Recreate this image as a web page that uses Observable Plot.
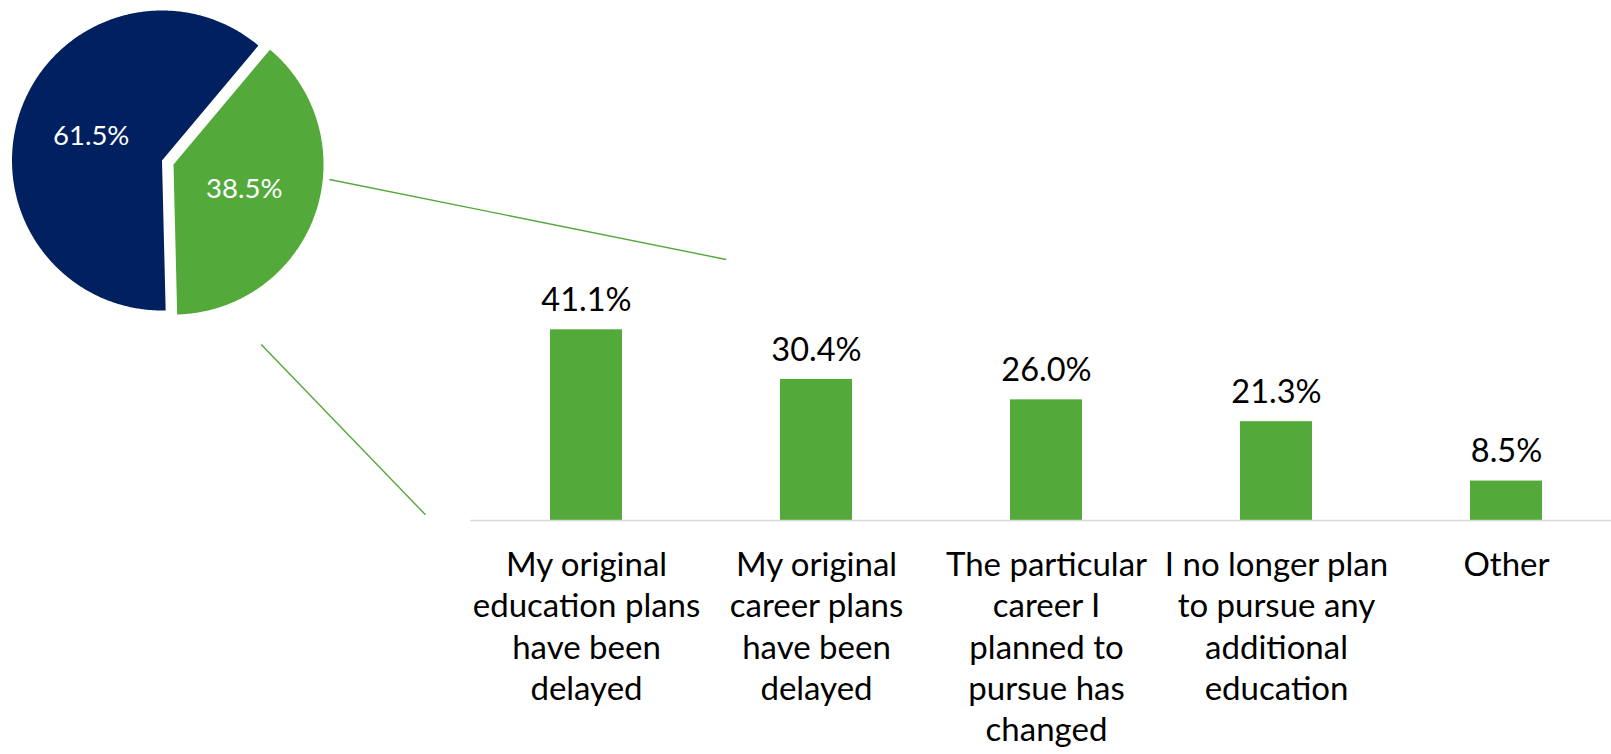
<!DOCTYPE html>
<html>
<head>
<meta charset="utf-8">
<script src="https://cdn.jsdelivr.net/npm/d3@7"></script>
<script src="https://cdn.jsdelivr.net/npm/@observablehq/plot@0.6"></script>
<style>
  html, body { margin: 0; padding: 0; background: #ffffff; }
  #chart { position: relative; width: 1611px; height: 754px; overflow: hidden; }
  #chart svg { position: absolute; left: 0; top: 0; }
</style>
</head>
<body>
<div id="chart"></div>
<script>
// ---------- data ----------
const pieKeys = ["Plans not changed", "Plans changed"];
const pieValues = [61.5, 38.5];

const categories = [
  "My original\neducation plans\nhave been\ndelayed",
  "My original\ncareer plans\nhave been\ndelayed",
  "The particular\ncareer I\nplanned to\npursue has\nchanged",
  "I no longer plan\nto pursue any\nadditional\neducation",
  "Other"
];
const barValues = [41.1, 30.4, 26.0, 21.3, 8.5];

// ---------- layout & style ----------
const W = 1611, H = 754;
const PIE = { cx: 161.5, cy: 160, r: 150, splitDeg: 40, explode: 12.2, labelFrac: 0.5 };
const PIE_COLORS = ["#002060", "#53A93A"];
const BAR_COLOR = "#53A93A";
const SERIES_LINES = [
  { x1: 329, y1: 179, x2: 725.7, y2: 259 },
  { x1: 260.7, y1: 344, x2: 425, y2: 514.3 }
];
const FONT = "Lato, 'Open Sans', sans-serif";
const BASE_Y = 520, PX_PER_PCT = 4.64;
const CAT_FONT = 33, CAT_LINE = 41.4;
const fmt = v => d3.format(".1f")(v) + "%";

// ---------- pie geometry from the data ----------
const rad = d => d * Math.PI / 180;
const total = d3.sum(pieValues);
const start = rad(PIE.splitDeg) - 2 * Math.PI * pieValues[0] / total;
const arcs = d3.pie().sort(null).startAngle(start).endAngle(start + 2 * Math.PI)(pieValues);
const slices = arcs.map((a, i) => {
  const mid = (a.startAngle + a.endAngle) / 2;
  const off = i === 1 ? PIE.explode : 0;
  const cx = PIE.cx + off * Math.sin(mid), cy = PIE.cy - off * Math.cos(mid);
  const n = Math.max(2, Math.ceil((a.endAngle - a.startAngle) / rad(0.5)));
  const pts = [{ x: cx, y: cy }];
  for (let k = 0; k <= n; k++) {
    const t = a.startAngle + (a.endAngle - a.startAngle) * k / n;
    pts.push({ x: cx + PIE.r * Math.sin(t), y: cy - PIE.r * Math.cos(t) });
  }
  pts.push({ x: cx, y: cy });
  return {
    key: pieKeys[i], value: a.value, color: PIE_COLORS[i], pts,
    lx: cx + PIE.r * PIE.labelFrac * Math.sin(mid),
    ly: cy - PIE.r * PIE.labelFrac * Math.cos(mid)
  };
});

const piePlot = Plot.plot({
  width: W, height: H, margin: 0,
  x: { domain: [0, W], range: [0, W], axis: null },
  y: { domain: [0, H], range: [0, H], axis: null },
  style: { fontFamily: FONT, background: "transparent" },
  marks: [
    ...slices.map(s => Plot.line(s.pts, { x: "x", y: "y", fill: s.color, stroke: "none" })),
    Plot.link(SERIES_LINES, { x1: "x1", y1: "y1", x2: "x2", y2: "y2", stroke: BAR_COLOR, strokeWidth: 1.4 }),
    Plot.text(slices, { x: "lx", y: "ly", text: d => fmt(d.value), fill: "#ffffff", fontSize: 27.5, textAnchor: "middle", lineAnchor: "middle" })
  ]
});

// ---------- bar chart ----------
const bars = categories.map((c, i) => ({ category: c, value: barValues[i] }));
const barPlot = Plot.plot({
  width: W, height: H, marginLeft: 470, marginRight: 0, marginTop: 0, marginBottom: 0,
  x: { domain: categories, range: [470, 1621], paddingInner: 0.6885, paddingOuter: 0.344, axis: null },
  y: { domain: [0, 45], range: [BASE_Y, BASE_Y - 45 * PX_PER_PCT], axis: null },
  style: { fontFamily: FONT, background: "transparent" },
  marks: [
    Plot.barY(bars, { x: "category", y: "value", fill: BAR_COLOR }),
    Plot.ruleY([0], { stroke: "#D9D9D9", strokeWidth: 1.4 }),
    Plot.text(bars, { x: "category", y: "value", text: d => fmt(d.value), dy: -18.6, lineAnchor: "bottom", fontSize: 32.5, fill: "#000000" }),
    Plot.text(bars, { x: "category", y: () => 0, text: "category", lineAnchor: "top", dy: 26, fontSize: CAT_FONT, lineHeight: CAT_LINE / CAT_FONT, fill: "#000000" })
  ]
});

const root = document.getElementById("chart");
root.appendChild(piePlot);
root.appendChild(barPlot);
</script>
</body>
</html>
